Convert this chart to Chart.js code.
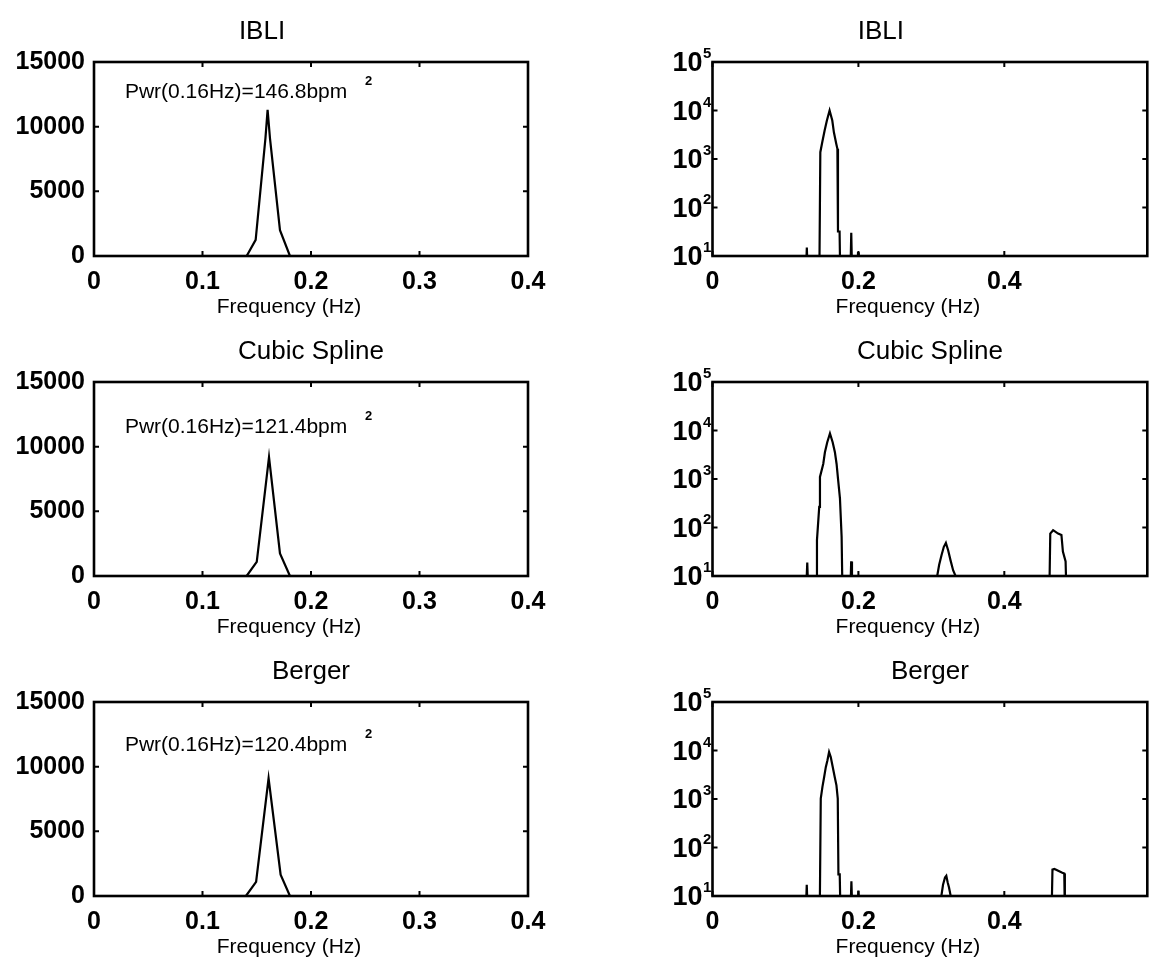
<!DOCTYPE html>
<html>
<head>
<meta charset="utf-8">
<script src="https://cdn.jsdelivr.net/npm/chart.js@4.4.1/dist/chart.umd.min.js"></script>
<style>
  html, body { margin: 0; padding: 0; background: #fff; width: 1151px; height: 959px; overflow: hidden; }
  canvas { position: absolute; }
</style>
</head>
<body>
<canvas id="linIBLI" width="560" height="320" style="left:0;top:0"></canvas>
<canvas id="logIBLI" width="591" height="320" style="left:560px;top:0"></canvas>
<canvas id="linSpline" width="560" height="320" style="left:0;top:320px"></canvas>
<canvas id="logSpline" width="591" height="320" style="left:560px;top:320px"></canvas>
<canvas id="linBerger" width="560" height="320" style="left:0;top:640px"></canvas>
<canvas id="logBerger" width="591" height="320" style="left:560px;top:640px"></canvas>
<script>
// ---- Panel titles and annotations ----
const methodNames = ['IBLI', 'Cubic Spline', 'Berger'];
const powerLabels = ['Pwr(0.16Hz)=146.8bpm', 'Pwr(0.16Hz)=121.4bpm', 'Pwr(0.16Hz)=120.4bpm'];
const powerUnitExp = '2';
const xAxisLabel = 'Frequency (Hz)';

// ---- Tick values ----
const linXTicks = [0, 0.1, 0.2, 0.3, 0.4];
const linYTicks = [0, 5000, 10000, 15000];
const logXTicks = [0, 0.2, 0.4];
const logYTicks = [10, 100, 1000, 10000, 100000];
const logYExponents = ['1', '2', '3', '4', '5'];

// ---- Linear-scale spectra (Hz, bpm^2/Hz) ----
const ibliLinFreq   = [0, 0.1407, 0.1490, 0.1580, 0.1600, 0.1622, 0.1714, 0.1806, 0.4];
const ibliLinPower  = [0, 0, 1250, 9100, 11300, 9100, 2000, 0, 0];
const splineLinFreq  = [0, 0.1407, 0.1500, 0.1613, 0.1714, 0.1806, 0.4];
const splineLinPower = [0, 0, 1100, 9200, 1750, 0, 0];
const bergerLinFreq  = [0, 0.1400, 0.1494, 0.1609, 0.1720, 0.1806, 0.4];
const bergerLinPower = [0, 0, 1100, 9100, 1650, 0, 0];

// ---- Log-scale spectra (values under 10 fall below the axis floor) ----
const ibliLogFreq  = [0, 0.1280, 0.1293, 0.1306, 0.1465, 0.1478, 0.1505, 0.1537, 0.1568, 0.1605,
                      0.1642, 0.1664, 0.1697, 0.1712, 0.1720, 0.1742, 0.1752, 0.1890, 0.1902, 0.1914,
                      0.1985, 0.1995, 0.2005, 0.596];
const ibliLogPower = [2, 4, 15, 4, 4, 1380, 2240, 3880, 6200, 10000,
                      6200, 3550, 2040, 1620, 32, 32, 3, 4, 30, 4,
                      5, 12, 5, 2];

const splineLogFreq  = [0, 0.1285, 0.1299, 0.1312, 0.1420, 0.1432, 0.1463, 0.1473, 0.1518, 0.1541,
                        0.1573, 0.1610, 0.1647, 0.1678, 0.1701, 0.1723, 0.1747, 0.1770, 0.1782, 0.1890,
                        0.1901, 0.1912, 0.2000, 0.2011, 0.2022, 0.3080, 0.3107, 0.3140, 0.3171, 0.3199,
                        0.3230, 0.3263, 0.3299, 0.3332, 0.4618, 0.4630, 0.4669, 0.4737, 0.4783, 0.4803,
                        0.4840, 0.4852, 0.596];
const splineLogPower = [2, 5, 19, 5, 4, 55, 265, 1100, 2040, 3560,
                        5740, 8700, 5740, 3560, 2040, 930, 400, 64, 4, 5,
                        20, 5, 6, 10.5, 6, 10, 17, 27, 40, 48,
                        34, 21, 13, 10, 5, 75, 88, 75, 70, 32,
                        20, 4, 2];

const bergerLogFreq  = [0, 0.1280, 0.1292, 0.1304, 0.1470, 0.1484, 0.1507, 0.1530, 0.1553, 0.1575,
                        0.1598, 0.1621, 0.1644, 0.1676, 0.1699, 0.1717, 0.1726, 0.1744, 0.1756, 0.1892,
                        0.1904, 0.1916, 0.1990, 0.2000, 0.2010, 0.3137, 0.3160, 0.3187, 0.3205, 0.3224,
                        0.3242, 0.3265, 0.4648, 0.4660, 0.4685, 0.4703, 0.4795, 0.4822, 0.4830, 0.596];
const bergerLogPower = [2, 5, 17, 5, 4, 1020, 1780, 2800, 4540, 6200,
                        9300, 7300, 4900, 2800, 1910, 1020, 28, 28, 3, 5,
                        20, 5, 6, 13, 6, 10, 17, 24, 26, 19,
                        15, 10, 4, 35, 36, 35, 30, 29, 4, 2];

const FONT = '"Liberation Sans", Arial, Helvetica, sans-serif';

// Box, inward tick marks, titles, axis label, annotations and log tick labels
const framePlugin = {
  id: 'frame',
  afterDraw(chart, args, o) {
    const { ctx, chartArea: a, scales } = chart;
    const xs = scales.x, ys = scales.y;
    ctx.save();
    ctx.strokeStyle = '#000';
    ctx.fillStyle = '#000';
    ctx.lineCap = 'butt';

    // inward ticks on all four sides
    ctx.lineWidth = 2;
    const tl = 5;
    ctx.beginPath();
    xs.ticks.forEach(t => {
      const x = xs.getPixelForValue(t.value);
      ctx.moveTo(x, a.bottom); ctx.lineTo(x, a.bottom - tl);
      ctx.moveTo(x, a.top); ctx.lineTo(x, a.top + tl);
    });
    ys.ticks.forEach(t => {
      const y = ys.getPixelForValue(t.value);
      ctx.moveTo(a.left, y); ctx.lineTo(a.left + tl, y);
      ctx.moveTo(a.right, y); ctx.lineTo(a.right - tl, y);
    });
    ctx.stroke();

    // axes box
    ctx.lineWidth = 2.6;
    ctx.strokeRect(a.left, a.top, a.right - a.left, a.bottom - a.top);

    const cx = (a.left + a.right) / 2;

    // panel title
    ctx.textAlign = 'center';
    ctx.textBaseline = 'middle';
    ctx.font = `26px ${FONT}`;
    ctx.fillText(o.title, cx + o.titleShift, a.top - 30);

    // x-axis label
    ctx.font = `21px ${FONT}`;
    ctx.fillText(xAxisLabel, cx - 22, a.bottom + 51);

    // power annotation with its exponent
    if (o.note) {
      const nx = xs.getPixelForValue(o.noteX);
      const ny = ys.getPixelForValue(o.noteY);
      ctx.textAlign = 'left';
      ctx.font = `21px ${FONT}`;
      ctx.fillText(o.note, nx, ny);
      ctx.font = `bold 13px ${FONT}`;
      ctx.fillText(powerUnitExp, nx + 240, ny - 11);
    }

    // decade labels for the log axis
    if (o.logLabels) {
      ys.ticks.forEach((t, i) => {
        const y = ys.getPixelForValue(t.value);
        const xr = a.left - 10;
        ctx.textAlign = 'right';
        ctx.font = `bold 27px ${FONT}`;
        ctx.fillText('10', xr, y + 2);
        ctx.textAlign = 'left';
        ctx.font = `bold 15px ${FONT}`;
        ctx.fillText(logYExponents[i], xr + 0.5, y - 8);
      });
    }
    ctx.restore();
  }
};

const tickFont = { family: FONT, size: 25, weight: 'bold' };

function makePanel(id, freq, power, cfg) {
  const pts = freq.map((f, i) => ({ x: f, y: power[i] }));
  return new Chart(document.getElementById(id), {
    type: 'line',
    data: {
      datasets: [{
        data: pts,
        borderColor: '#000',
        borderWidth: 2.2,
        pointRadius: 0,
        tension: 0,
        fill: false,
        clip: 0
      }]
    },
    options: {
      responsive: false,
      animation: false,
      events: [],
      layout: { padding: { top: 62, left: 0, right: cfg.padRight, bottom: 0 } },
      plugins: {
        legend: { display: false },
        tooltip: { enabled: false },
        frame: cfg.frame
      },
      scales: {
        x: {
          type: 'linear',
          min: 0,
          max: cfg.xMax,
          afterBuildTicks: s => { s.ticks = cfg.xTicks.map(v => ({ value: v })); },
          afterFit: s => { s.height = 64; },
          grid: { display: false, drawTicks: false },
          border: { display: false },
          ticks: {
            color: '#000',
            font: tickFont,
            padding: 11,
            maxRotation: 0,
            autoSkip: false,
            callback: v => (v === 0 ? '0' : v.toFixed(1))
          }
        },
        y: {
          type: cfg.log ? 'logarithmic' : 'linear',
          min: cfg.log ? 10 : 0,
          max: cfg.log ? 100000 : 15000,
          afterBuildTicks: s => { s.ticks = cfg.yTicks.map(v => ({ value: v })); },
          afterFit: s => { s.width = cfg.yWidth; },
          grid: { display: false, drawTicks: false },
          border: { display: false },
          ticks: {
            display: !cfg.log,
            color: '#000',
            font: tickFont,
            padding: 9,
            autoSkip: false,
            callback: v => String(v)
          }
        }
      }
    },
    plugins: [framePlugin]
  });
}

const linCfg = (i, noteY) => ({
  log: false, xMax: 0.4, xTicks: linXTicks, yTicks: linYTicks, yWidth: 94, padRight: 32,
  frame: { title: methodNames[i], titleShift: i === 0 ? -49 : 0, note: powerLabels[i], noteX: 0.0285, noteY: noteY }
});
const logCfg = (i) => ({
  log: true, xMax: 0.596, xTicks: logXTicks, yTicks: logYTicks, yWidth: 152.5, padRight: 3.7,
  frame: { title: methodNames[i], titleShift: i === 0 ? -49 : 0, logLabels: true }
});

makePanel('linIBLI',   ibliLinFreq,   ibliLinPower,   linCfg(0, 12640));
makePanel('logIBLI',   ibliLogFreq,   ibliLogPower,   logCfg(0));
makePanel('linSpline', splineLinFreq, splineLinPower, linCfg(1, 11480));
makePanel('logSpline', splineLogFreq, splineLogPower, logCfg(1));
makePanel('linBerger', bergerLinFreq, bergerLinPower, linCfg(2, 11640));
makePanel('logBerger', bergerLogFreq, bergerLogPower, logCfg(2));
</script>
</body>
</html>
